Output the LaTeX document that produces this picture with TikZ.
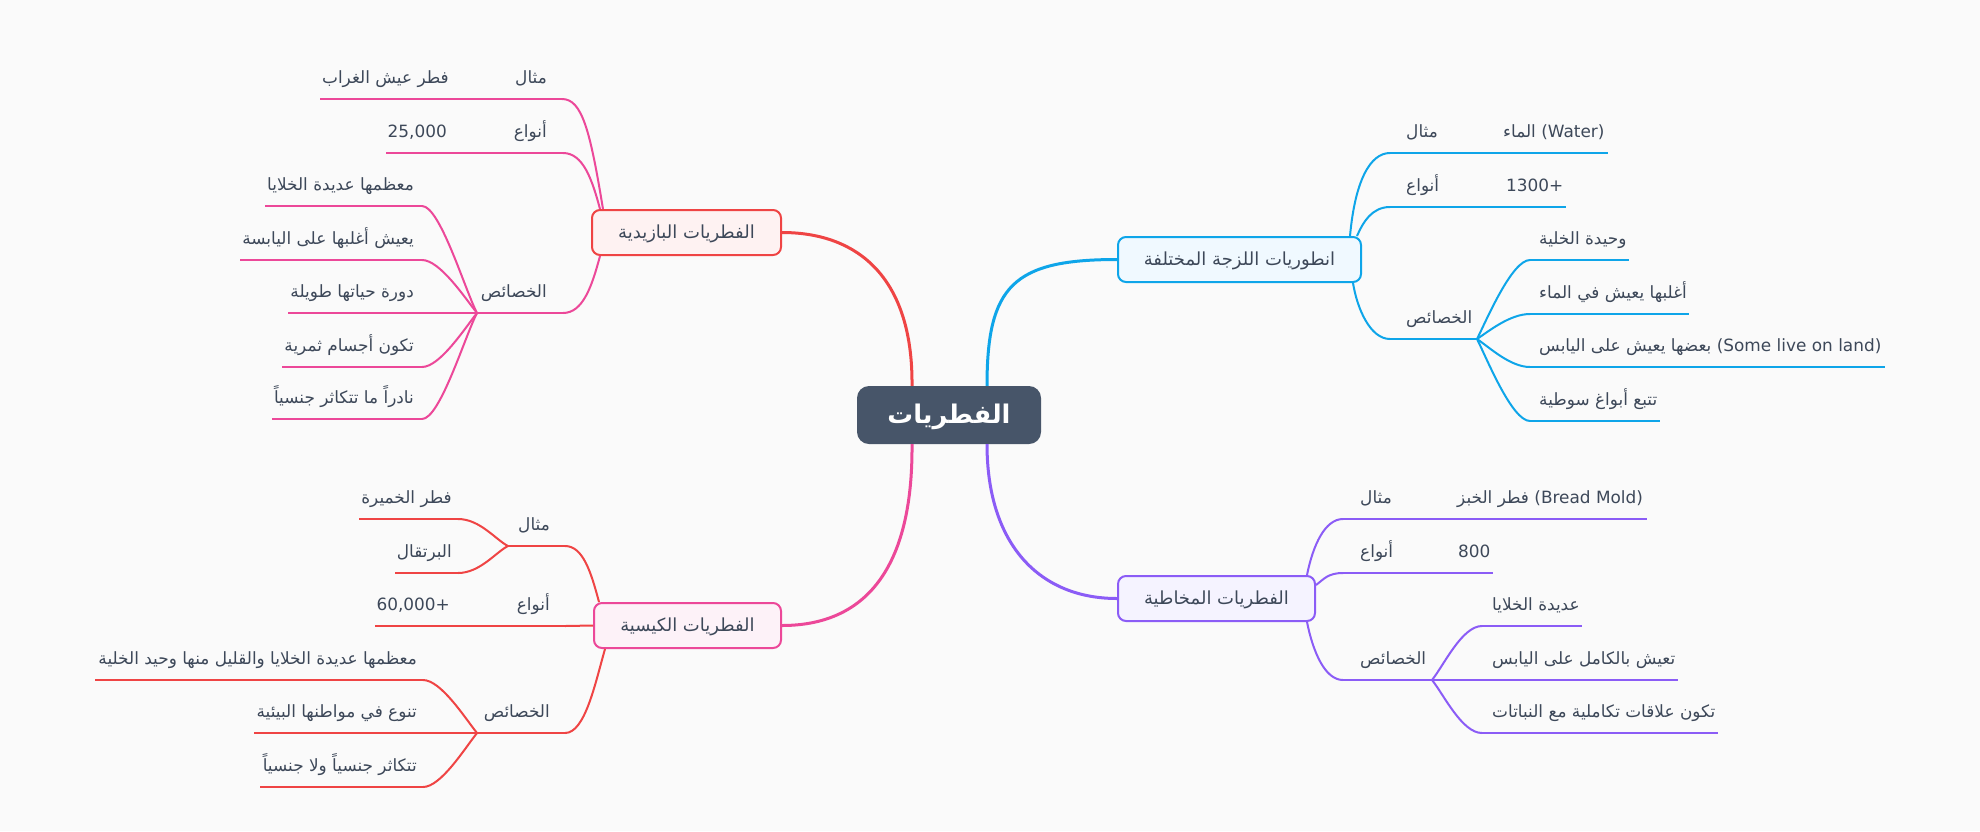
\documentclass[tikz,border=0pt]{standalone}
\usepackage{fontspec}
\setmainfont{DejaVu Sans}
\newfontfamily\arabicfont[Script=Arabic]{DejaVu Sans}
\TeXXeTstate=1
\newcommand{\AR}[1]{{\arabicfont\beginR #1\endR}}
\definecolor{bgc}{HTML}{FAFAFA}
\definecolor{txt}{HTML}{3D4859}
\definecolor{cslate}{HTML}{475569}
\definecolor{cred}{HTML}{EF4444}
\definecolor{cpink}{HTML}{EC4899}
\definecolor{cblue}{HTML}{0EA5E9}
\definecolor{cpurple}{HTML}{8B5CF6}
\definecolor{fred}{HTML}{FEF2F2}
\definecolor{fpink}{HTML}{FDF2F8}
\definecolor{fblue}{HTML}{F0F9FF}
\definecolor{fpurple}{HTML}{F5F3FF}
\newcommand{\ULine}[5]{%
  \coordinate (#1-a) at (#3,#5);
  \coordinate (#1-b) at (#4,#5);
  \draw[#2] (#1-a) -- (#1-b);}
\tikzset{
  itm/.style={font=\fontsize{16.9}{19}\selectfont, text=txt, inner sep=0pt},
  lft/.style={itm, anchor=base east},
  rgt/.style={itm, anchor=base west},
  box/.style={draw, line width=2pt, rounded corners=8pt, inner sep=0pt,
    text=txt, font=\fontsize{18}{21}\selectfont,
    text height=15.5pt, text depth=4.5pt, minimum height=45pt},
  ln/.style={line width=2pt},
  br/.style={line width=3pt},
}
\begin{document}
\begin{tikzpicture}[x=1pt,y=-1pt]
\fill[bgc] (0,0) rectangle (1980,831);

% central and first-level nodes
\node[fill=cslate, rounded corners=12pt, minimum width=184pt, minimum height=58pt,
  inner sep=0pt, text=white, font=\fontsize{25.7}{30}\selectfont\bfseries,
  text height=22pt, text depth=6pt] (root) at (949,415) {\AR{الفطريات}};
\node[box, draw=cred, fill=fred, minimum width=189pt] (basid) at (686.5,232.5) {\AR{الفطريات البازيدية}};
\node[box, draw=cpink, fill=fpink, minimum width=187pt] (asco) at (687.5,625.5) {\AR{الفطريات الكيسية}};
\node[box, draw=cblue, fill=fblue, minimum width=243pt] (blue) at (1239.5,259.5) {\AR{انطوريات اللزجة المختلفة}};
\node[box, draw=cpurple, fill=fpurple, minimum width=197pt] (purple) at (1216.5,598.5) {\AR{الفطريات المخاطية}};

% main branches
\draw[br, cred] ([xshift=-37pt]root.north) .. controls +(1,-106) and +(78,0) .. (basid.east);
\draw[br, cpink] ([xshift=-37pt]root.south) .. controls +(1,125) and +(83,0) .. (asco.east);
\draw[br, cblue] ([xshift=38pt]root.north) .. controls +(0,-100) and +(-104,0) .. (blue.west);
\draw[br, cpurple] ([xshift=38pt]root.south) .. controls +(0,101) and +(-77,0) .. (purple.west);

% ---------- Basidiomycota (pink lines)
\ULine{b1}{ln,cpink}{477}{562}{99}
\ULine{b1v}{ln,cpink}{320}{477}{99}
\ULine{b2}{ln,cpink}{477}{563}{153}
\ULine{b2v}{ln,cpink}{386}{477}{153}
\ULine{b3}{ln,cpink}{477}{563}{313}
\ULine{b31}{ln,cpink}{265}{422}{206}
\ULine{b32}{ln,cpink}{240}{422}{260}
\ULine{b33}{ln,cpink}{288}{422}{313}
\ULine{b34}{ln,cpink}{282}{422}{367}
\ULine{b35}{ln,cpink}{272}{422}{419}
\draw[ln,cpink] (b1-b) .. controls +(20,0) and +(-13,-79) .. ([xshift=12pt]basid.north west);
\draw[ln,cpink] (b2-b) .. controls +(20,0) and +(-8,-30) .. ([xshift=9pt]basid.north west);
\draw[ln,cpink] (b3-b) .. controls +(20,0) and +(-8,30) .. ([xshift=9pt]basid.south west);
\draw[ln,cpink] (b31-b) .. controls +(18,0) and +(-12,-23) .. (b3-a);
\draw[ln,cpink] (b32-b) .. controls +(18,0) and +(-12,-15) .. (b3-a);
\draw[ln,cpink] (b33-b) -- (b3-a);
\draw[ln,cpink] (b34-b) .. controls +(18,0) and +(-12,15) .. (b3-a);
\draw[ln,cpink] (b35-b) .. controls +(18,0) and +(-12,23) .. (b3-a);
\node[lft] (tb1) at (547,83) {\AR{مثال}};
\node[lft] (tb1v) at (449,83) {\AR{فطر عيش الغراب}};
\node[lft] (tb2) at (547,137) {\AR{أنواع}};
\node[lft] (tb2v) at (447,137) {25,000};
\node[lft] (tb3) at (547,297) {\AR{الخصائص}};
\node[lft] (tb31) at (414,190) {\AR{معظمها عديدة الخلايا}};
\node[lft] (tb32) at (414,244) {\AR{يعيش أغلبها على اليابسة}};
\node[lft] (tb33) at (414,297) {\AR{دورة حياتها طويلة}};
\node[lft] (tb34) at (414,351) {\AR{تكون أجسام ثمرية}};
\node[lft] (tb35) at (414,403) {\AR{نادراً ما تتكاثر جنسياً}};

% ---------- Ascomycota (red lines)
\ULine{a1}{ln,cred}{508}{565}{546}
\ULine{a11}{ln,cred}{359}{458}{519}
\ULine{a12}{ln,cred}{395}{458}{573}
\ULine{a2}{ln,cred}{477}{565}{626}
\ULine{a2v}{ln,cred}{375}{477}{626}
\ULine{a3}{ln,cred}{477}{565}{733}
\ULine{a31}{ln,cred}{95}{423}{680}
\ULine{a32}{ln,cred}{254}{423}{733}
\ULine{a33}{ln,cred}{260}{423}{787}
\draw[ln,cred] (a1-b) .. controls +(18,0) and +(-8,-30) .. ([xshift=6pt]asco.north west);
\draw[ln,cred] (a2-b) -- (asco.west);
\draw[ln,cred] (a3-b) .. controls +(20,0) and +(-10,35) .. ([xshift=12pt]asco.south west);
\draw[ln,cred] (a11-b) .. controls +(22,0) and +(-12,-6) .. (a1-a);
\draw[ln,cred] (a12-b) .. controls +(22,0) and +(-12,6) .. (a1-a);
\draw[ln,cred] (a31-b) .. controls +(18,0) and +(-12,-15) .. (a3-a);
\draw[ln,cred] (a32-b) -- (a3-a);
\draw[ln,cred] (a33-b) .. controls +(18,0) and +(-12,15) .. (a3-a);
\node[lft] (ta1) at (550,530) {\AR{مثال}};
\node[lft] (ta11) at (452,503) {\AR{فطر الخميرة}};
\node[lft] (ta12) at (452,557) {\AR{البرتقال}};
\node[lft] (ta2) at (550,610) {\AR{أنواع}};
\node[lft] (ta2v) at (450,610) {60,000+};
\node[lft] (ta3) at (550,717) {\AR{الخصائص}};
\node[lft] (ta31) at (417,664) {\AR{معظمها عديدة الخلايا والقليل منها وحيد الخلية}};
\node[lft] (ta32) at (417,717) {\AR{تنوع في مواطنها البيئية}};
\node[lft] (ta33) at (417,771) {\AR{تتكاثر جنسياً ولا جنسياً}};

% ---------- blue branch
\ULine{g1}{ln,cblue}{1390}{1477}{153}
\ULine{g1v}{ln,cblue}{1477}{1608}{153}
\ULine{g2}{ln,cblue}{1390}{1477}{207}
\ULine{g2v}{ln,cblue}{1477}{1566}{207}
\ULine{g3}{ln,cblue}{1390}{1477}{339}
\ULine{g31}{ln,cblue}{1530}{1629}{260}
\ULine{g32}{ln,cblue}{1530}{1689}{314}
\ULine{g33}{ln,cblue}{1530}{1885}{367}
\ULine{g34}{ln,cblue}{1530}{1660}{421}
\draw[ln,cblue] (g1-a) .. controls +(-20,0) and +(5,-55) .. ([xshift=-12pt]blue.north east);
\draw[ln,cblue] (g2-a) .. controls +(-18,0) and +(6,-14) .. ([xshift=-5pt]blue.north east);
\draw[ln,cblue] (g3-a) .. controls +(-20,0) and +(4,25) .. ([xshift=-9pt]blue.south east);
\draw[ln,cblue] (g31-a) .. controls +(-18,0) and +(10,-20) .. (g3-b);
\draw[ln,cblue] (g32-a) .. controls +(-20,0) and +(12,-8) .. (g3-b);
\draw[ln,cblue] (g33-a) .. controls +(-20,0) and +(12,8) .. (g3-b);
\draw[ln,cblue] (g34-a) .. controls +(-18,0) and +(10,20) .. (g3-b);
\node[rgt] (tg1) at (1406,137) {\AR{مثال}};
\node[rgt] (tg1v) at (1503,137) {\AR{الماء} (Water)};
\node[rgt] (tg2) at (1406,191) {\AR{أنواع}};
\node[rgt] (tg2v) at (1506,191) {1300+};
\node[rgt] (tg3) at (1406,323) {\AR{الخصائص}};
\node[rgt] (tg31) at (1539,244) {\AR{وحيدة الخلية}};
\node[rgt] (tg32) at (1539,298) {\AR{أغلبها يعيش في الماء}};
\node[rgt] (tg33) at (1539,351) {\AR{بعضها يعيش على اليابس} (Some live on land)};
\node[rgt] (tg34) at (1539,405) {\AR{تتبع أبواغ سوطية}};

% ---------- purple branch
\ULine{p1}{ln,cpurple}{1343}{1432}{519}
\ULine{p1v}{ln,cpurple}{1432}{1647}{519}
\ULine{p2}{ln,cpurple}{1343}{1432}{573}
\ULine{p2v}{ln,cpurple}{1432}{1493}{573}
\ULine{p3}{ln,cpurple}{1343}{1432}{680}
\ULine{p31}{ln,cpurple}{1482}{1582}{626}
\ULine{p32}{ln,cpurple}{1482}{1678}{680}
\ULine{p33}{ln,cpurple}{1482}{1718}{733}
\draw[ln,cpurple] (p1-a) .. controls +(-18,0) and +(6,-30) .. ([xshift=-9pt]purple.north east);
\draw[ln,cpurple] (p2-a) .. controls +(-15,0) and +(8,-6) .. ([yshift=-10pt]purple.north east);
\draw[ln,cpurple] (p3-a) .. controls +(-18,0) and +(6,30) .. ([xshift=-9pt]purple.south east);
\draw[ln,cpurple] (p31-a) .. controls +(-20,0) and +(12,-15) .. (p3-b);
\draw[ln,cpurple] (p32-a) -- (p3-b);
\draw[ln,cpurple] (p33-a) .. controls +(-20,0) and +(12,15) .. (p3-b);
\node[rgt] (tp1) at (1360,503) {\AR{مثال}};
\node[rgt] (tp1v) at (1457,503) {\AR{فطر الخبز} (Bread Mold)};
\node[rgt] (tp2) at (1360,557) {\AR{أنواع}};
\node[rgt] (tp2v) at (1458,557) {800};
\node[rgt] (tp3) at (1360,664) {\AR{الخصائص}};
\node[rgt] (tp31) at (1492,610) {\AR{عديدة الخلايا}};
\node[rgt] (tp32) at (1492,664) {\AR{تعيش بالكامل على اليابس}};
\node[rgt] (tp33) at (1492,717) {\AR{تكون علاقات تكاملية مع النباتات}};
\end{tikzpicture}
\end{document}
